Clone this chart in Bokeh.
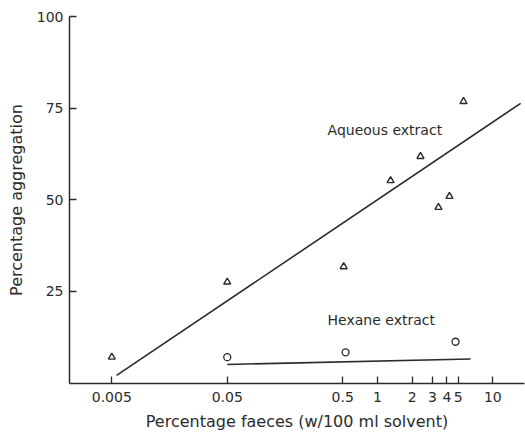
from bokeh.plotting import figure
from bokeh.models import Range1d, FixedTicker, Label
from bokeh.embed import file_html
from bokeh.resources import INLINE

# Data
aq_x = [0.005, 0.05, 0.51, 1.3, 2.36, 3.38, 4.21, 5.57]
aq_y = [7.0, 27.5, 31.7, 55.2, 61.8, 47.9, 50.9, 76.8]
hex_x = [0.05, 0.53, 4.75]
hex_y = [7.0, 8.3, 11.2]
aq_fit_x = [0.0055, 17.4]
aq_fit_y = [2.0, 76.3]
hex_fit_x = [0.05, 6.4]
hex_fit_y = [5.0, 6.5]
x_ticks = [0.005, 0.05, 0.5, 1, 2, 3, 4, 5, 10]
x_tick_labels = ["0.005", "0.05", "0.5", "1", "2", "3", "4", "5", "10"]
y_ticks = [25, 50, 75, 100]

FONT = "DejaVu Sans"
INK = "#2b2b2b"

p = figure(width=525, height=433, x_axis_type="log",
           x_range=Range1d(0.00215, 18.8), y_range=Range1d(-0.2, 100),
           output_backend="svg", toolbar_location=None,
           min_border_top=16, min_border_right=1, min_border_left=69,
           min_border_bottom=50)
p.outline_line_color = None
p.grid.visible = False
p.background_fill_color = "white"
p.border_fill_color = "white"

p.line(aq_fit_x, aq_fit_y, line_color=INK, line_width=1.6)
p.line(hex_fit_x, hex_fit_y, line_color=INK, line_width=1.6)
p.scatter(aq_x, aq_y, marker="triangle", size=7, fill_color=None,
          line_color=INK, line_width=1.4)
p.scatter(hex_x, hex_y, marker="circle", size=7, fill_color=None,
          line_color=INK, line_width=1.3)

for ax in (p.xaxis[0], p.yaxis[0]):
    ax.axis_line_color = INK
    ax.axis_line_width = 1.5
    ax.major_tick_line_color = INK
    ax.major_tick_line_width = 1.3
    ax.major_tick_in = 7
    ax.major_tick_out = 0
    ax.minor_tick_line_color = None
    ax.major_label_text_font = FONT
    ax.major_label_text_font_size = "14px"
    ax.major_label_text_color = INK
    ax.axis_label_text_font = FONT
    ax.axis_label_text_font_size = "16px"
    ax.axis_label_text_font_style = "normal"
    ax.axis_label_text_color = INK

p.xaxis.ticker = FixedTicker(ticks=x_ticks, minor_ticks=[])
p.xaxis.major_label_overrides = {t: s for t, s in zip(x_ticks, x_tick_labels)}
p.xaxis.major_label_standoff = 8
p.xaxis.axis_label = "Percentage faeces (w/100 ml solvent)"
p.xaxis.axis_label_standoff = 7

p.yaxis.ticker = FixedTicker(ticks=y_ticks, minor_ticks=[])
p.yaxis.major_label_standoff = 6
p.yaxis.axis_label = "Percentage aggregation"
p.yaxis.axis_label_standoff = 8

p.add_layout(Label(x=0.37, y=66.9, text="Aqueous extract", text_font=FONT,
                   text_font_size="14px", text_color=INK))
p.add_layout(Label(x=0.37, y=15.0, text="Hexane extract", text_font=FONT,
                   text_font_size="14px", text_color=INK))

open("out.html", "w").write(file_html(p, INLINE))
